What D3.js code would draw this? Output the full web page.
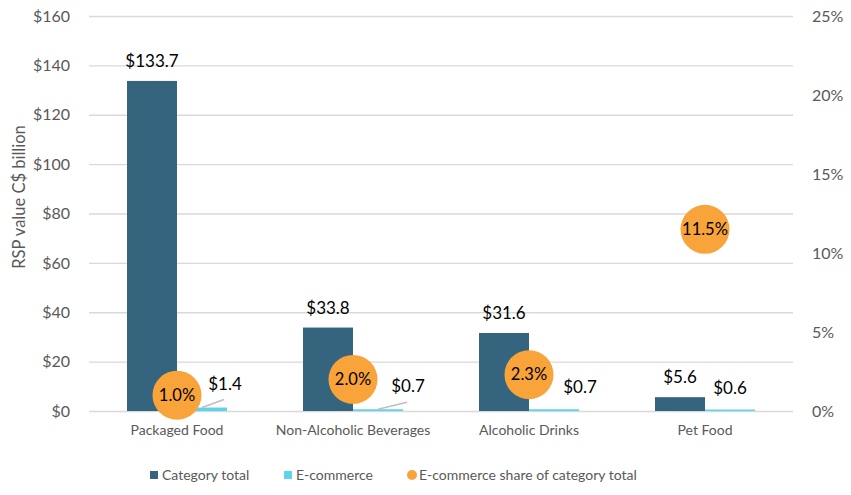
<!DOCTYPE html>
<html>
<head>
<meta charset="utf-8">
<script src="https://cdn.jsdelivr.net/npm/d3@7"></script>
<style>
  body { margin: 0; background: #fff; }
  svg { display: block; font-family: Lato, "Open Sans", sans-serif; }
</style>
</head>
<body>
<svg id="chart" width="851" height="495"></svg>
<script>
const categories = ["Packaged Food", "Non-Alcoholic Beverages", "Alcoholic Drinks", "Pet Food"];
const categoryTotal = [133.7, 33.8, 31.6, 5.6];
const ecommerce = [1.4, 0.7, 0.7, 0.6];
const ecomShare = [0.010, 0.020, 0.023, 0.115];
const leftTicks = [0, 20, 40, 60, 80, 100, 120, 140, 160];
const rightTicks = [0, 0.05, 0.10, 0.15, 0.20, 0.25];
const seriesNames = ["Category total", "E-commerce", "E-commerce share of category total"];
const axisTitle = "RSP value C$ billion";

const colors = { total: "#35647e", ecom: "#5dd3ee", share: "#f9a33b" };
const grey = "#595959";

// label nudges (layout only): e-commerce labels moved clear of the share bubbles
const ecomLabelNudge = [{dx: 23, dy: -2, leader: true}, {dx: 30, dy: -1, leader: true}, {dx: 26, dy: 0, leader: false}, {dx: 0, dy: 0, leader: false}];

const svg = d3.select("#chart");
const plot = { left: 89, right: 793, top: 16, bottom: 411 };

const x = d3.scaleBand().domain(categories).range([plot.left, plot.right]).padding(0);
const bw = x.bandwidth();
const x1 = d3.scaleBand().domain(["total", "ecom"]).range([bw / 2 - 50, bw / 2 + 50]).padding(0);
const y = d3.scaleLinear().domain([0, 160]).range([plot.bottom, plot.top]);
const y2 = d3.scaleLinear().domain([0, 0.25]).range([plot.bottom, plot.top]);

// gridlines + left axis
const gAxisL = svg.append("g").attr("transform", `translate(${plot.left},0)`)
  .call(d3.axisLeft(y).tickValues(leftTicks).tickSize(-(plot.right - plot.left)).tickPadding(19).tickFormat(d => "$" + d));
gAxisL.select(".domain").remove();
gAxisL.selectAll(".tick line").attr("stroke", "#d9d9d9").attr("stroke-width", 1.3);
gAxisL.selectAll(".tick text").attr("fill", grey).style("font-size", "16px").style("font-family", "Lato, sans-serif");

// right axis
const gAxisR = svg.append("g").attr("transform", `translate(${plot.right},0)`)
  .call(d3.axisRight(y2).tickValues(rightTicks).tickSize(0).tickPadding(19).tickFormat(d3.format(".0%")));
gAxisR.select(".domain").remove();
gAxisR.selectAll(".tick text").attr("fill", grey).style("font-size", "16px").style("font-family", "Lato, sans-serif");

// axis title
svg.append("text")
  .attr("transform", `translate(25,197) rotate(-90)`)
  .attr("text-anchor", "middle").attr("fill", grey)
  .style("font-size", "16.5px").text(axisTitle);

// category labels
const gX = svg.append("g").attr("transform", `translate(0,${plot.bottom})`)
  .call(d3.axisBottom(x).tickSize(0).tickPadding(14));
gX.select(".domain").remove();
gX.selectAll(".tick text").attr("fill", grey).style("font-size", "14px").style("font-family", "Lato, sans-serif");

const data = categories.map((c, i) => ({ c, i, total: categoryTotal[i], ecom: ecommerce[i], share: ecomShare[i] }));

const groups = svg.append("g").selectAll("g").data(data).join("g")
  .attr("transform", d => `translate(${x(d.c)},0)`);

groups.append("rect")
  .attr("x", x1("total")).attr("width", x1.bandwidth())
  .attr("y", d => y(d.total)).attr("height", d => y(0) - y(d.total))
  .attr("fill", colors.total);

groups.append("rect")
  .attr("x", x1("ecom")).attr("width", x1.bandwidth())
  .attr("y", d => y(d.ecom)).attr("height", d => y(0) - y(d.ecom))
  .attr("fill", colors.ecom);

// total labels
groups.append("text")
  .attr("x", x1("total") + x1.bandwidth() / 2)
  .attr("y", d => y(d.total) - 14)
  .attr("text-anchor", "middle").attr("fill", "#000")
  .style("font-size", "17px").text(d => "$" + d.total.toFixed(1));

// leader lines
groups.filter(d => ecomLabelNudge[d.i].leader).append("line")
  .attr("x1", d => x1("ecom") + x1.bandwidth() / 2 + ecomLabelNudge[d.i].dx - 1)
  .attr("y1", d => y(d.ecom) - 16 + ecomLabelNudge[d.i].dy + 10)
  .attr("x2", d => x1("ecom") + x1.bandwidth() / 2)
  .attr("y2", d => y(d.ecom))
  .attr("stroke", "#bfbfbf").attr("stroke-width", 1.5);

// ecommerce labels
groups.append("text")
  .attr("x", d => x1("ecom") + x1.bandwidth() / 2 + ecomLabelNudge[d.i].dx)
  .attr("y", d => y(d.ecom) - 16 + ecomLabelNudge[d.i].dy)
  .attr("text-anchor", "middle").attr("fill", "#000")
  .style("font-size", "17px").text(d => "$" + d.ecom.toFixed(1));

// share bubbles
groups.append("circle")
  .attr("cx", bw / 2).attr("cy", d => y2(d.share)).attr("r", 24.5)
  .attr("fill", colors.share);
groups.append("text")
  .attr("x", bw / 2).attr("y", d => y2(d.share)).attr("dy", "0.35em")
  .attr("text-anchor", "middle").attr("fill", "#000")
  .style("font-size", "16.5px").text(d => d3.format(".1%")(d.share));

// legend
const legend = svg.append("g").attr("transform", "translate(0,475)");
const legItems = [
  { name: seriesNames[0], color: colors.total, shape: "rect", x: 150 },
  { name: seriesNames[1], color: colors.ecom, shape: "rect", x: 284 },
  { name: seriesNames[2], color: colors.share, shape: "circle", x: 407 }
];
legItems.forEach(it => {
  if (it.shape === "rect") {
    legend.append("rect").attr("x", it.x).attr("y", -4).attr("width", 8).attr("height", 8).attr("fill", it.color);
  } else {
    legend.append("circle").attr("cx", it.x + 5).attr("cy", 0).attr("r", 5).attr("fill", it.color);
  }
  legend.append("text").attr("x", it.x + 12).attr("y", 0).attr("dy", "0.35em")
    .attr("fill", grey).style("font-size", "14px").text(it.name);
});
</script>
</body>
</html>
